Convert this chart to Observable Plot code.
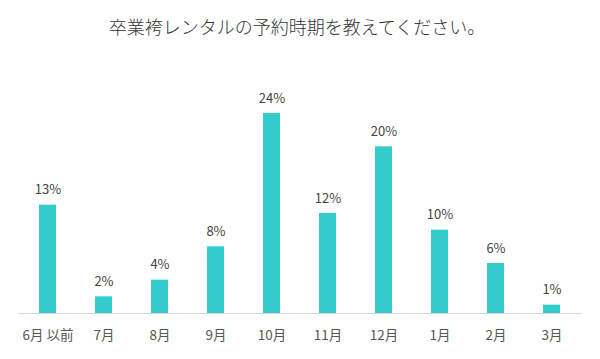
<!DOCTYPE html>
<html><head><meta charset="utf-8">
<script src="https://cdn.jsdelivr.net/npm/d3@7"></script>
<script src="https://cdn.jsdelivr.net/npm/@observablehq/plot@0.6"></script>
<style>
body{margin:0;background:#fff;width:600px;height:359px;overflow:hidden;font-family:"Noto Sans CJK JP","Noto Sans",sans-serif;}
#title{height:52px;line-height:52px;text-align:center;font-size:18px;color:#333;font-weight:300;padding-right:6px;}
</style></head>
<body>
<div id="title">卒業袴レンタルの予約時期を教えてください。</div>
<div id="chart"></div>
<script>
const months = ["6月 以前","7月","8月","9月","10月","11月","12月","1月","2月","3月"];
const values = [13,2,4,8,24,12,20,10,6,1];
const labels = ["13%","2%","4%","8%","24%","12%","20%","10%","6%","1%"];
const data = months.map((m,i)=>({month:m, value:values[i], label:labels[i]}));
const chart = Plot.plot({
  width:600, height:307,
  marginLeft:18, marginRight:18, marginTop:61, marginBottom:46,
  style:{fontFamily:'"Noto Sans CJK JP","Noto Sans",sans-serif', background:"#fff"},
  x:{domain:months, paddingInner:0.69, paddingOuter:0.345, label:null, tickSize:0, tickPadding:17},
  y:{domain:[0,24], axis:null},
  marks:[
    Plot.barY(data,{x:"month", y:"value", fill:"#33cccc"}),
    Plot.ruleY([0],{stroke:"#d9d9d9", strokeWidth:1}),
    Plot.text(data,{x:"month", y:"value", text:"label", dy:-15, fontSize:13, fill:"#444"}),
    Plot.axisX({tickSize:0, tickPadding:17, fontSize:13.5, fill:"#555", label:null})
  ]
});
document.getElementById("chart").appendChild(chart);
</script>
</body></html>
